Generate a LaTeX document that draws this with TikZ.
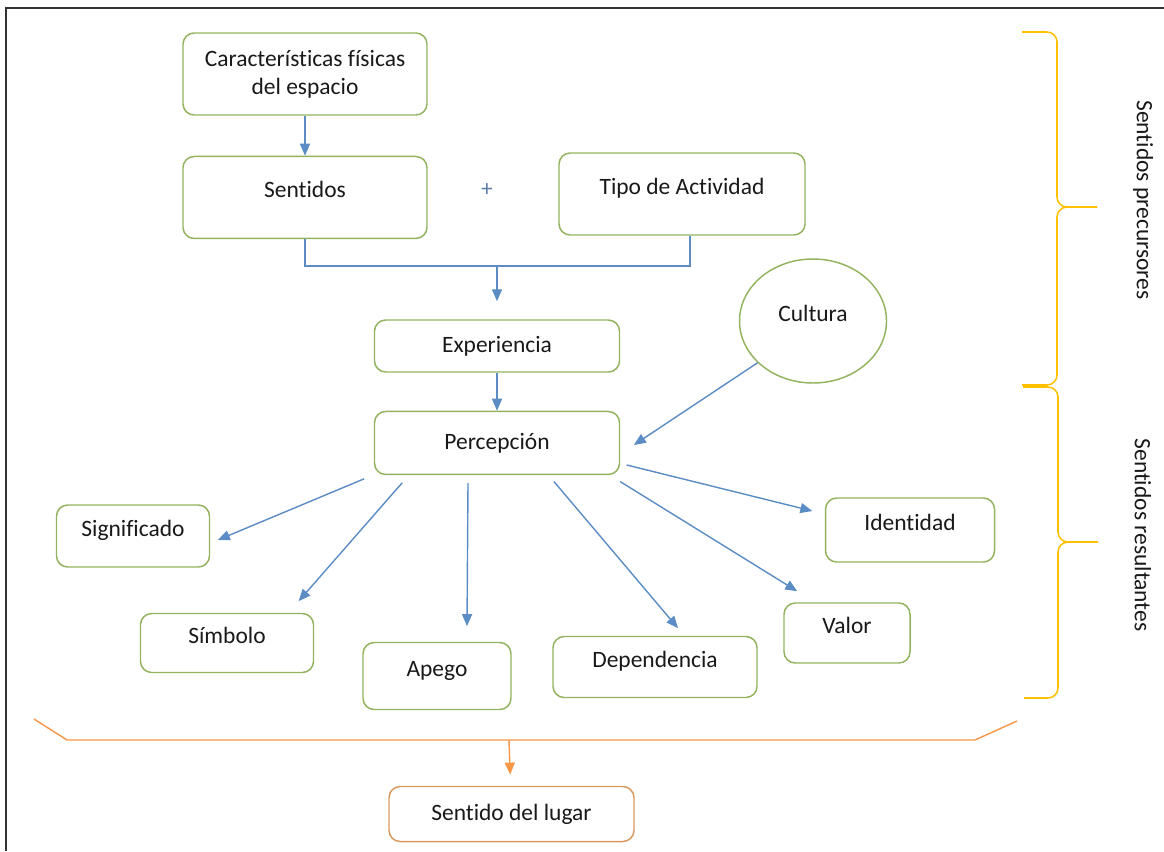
\documentclass[tikz,border=0pt]{standalone}
\usepackage{fontspec}
\setmainfont{Carlito}[RawFeature={-liga;-clig;-calt;-dlig}]
\usepackage{tikz}
\usetikzlibrary{positioning}
\usetikzlibrary{shapes.geometric}
\usetikzlibrary{arrows.meta}
\usetikzlibrary{calc}
\usepackage{xcolor}
\definecolor{boxgreen}{HTML}{93B35F}
\definecolor{arrowblue}{HTML}{5B8CC4}
\definecolor{lineorange}{HTML}{F79646}
\definecolor{lugarorange}{HTML}{D99A5E}
\definecolor{braceyellow}{HTML}{FFC000}
\definecolor{plusblue}{HTML}{5F7FA8}

\begin{document}
\begin{tikzpicture}[
  font=\fontsize{16.7}{19.9}\selectfont,
  box/.style={draw=boxgreen, line width=1.05pt, rounded corners=0.28cm, align=center, inner sep=0pt, text=black!90},
  upbox/.style={box, text height=0.7em, text depth=0.7em},
  circ/.style={draw=boxgreen, line width=1.05pt, ellipse, inner sep=0pt, text=black!90, text height=0.7em, text depth=0.7em},
  arrow/.style={-{Triangle[length=0.3cm, width=0.25cm]}, draw=arrowblue, line width=1pt},
  joinline/.style={draw=arrowblue, line width=1pt},
  oarrow/.style={-{Triangle[length=0.3cm, width=0.25cm]}, draw=lineorange, line width=1pt},
  brace/.style={draw=braceyellow, line width=1.1pt, rounded corners=0.25cm}
]
\useasboundingbox (0,0) rectangle (29.1,-21.275);

% Frame (only left and top edges show)
\draw[line width=1.4pt, black!80] (0.14,-21.275) -- (0.14,-0.19) -- (29.1,-0.19);

% Precursor nodes
\node[box, minimum width=6.1cm, minimum height=2.05cm] (car) at (7.625,-1.85) {Características físicas\\del espacio};
\node[upbox, minimum width=6.1cm, minimum height=2.05cm, below=1.0cm of car] (sen) {Sentidos};
\node[upbox, minimum width=6.15cm, minimum height=2.05cm] (act) at (17.05,-4.85) {Tipo de Actividad};
\node[text=plusblue] (plus) at (12.175,-4.75) {+};

\node[box, minimum width=6.125cm, minimum height=1.3cm] (exp) at (12.425,-8.65) {Experiencia};
\node[box, minimum width=6.125cm, minimum height=1.575cm, below=0.95cm of exp] (per) {Percepción};
\node[circ, minimum width=3.675cm, minimum height=3.1cm] (cul) at (20.325,-8.025) {Cultura};

% Resulting senses
\node[upbox, minimum width=3.825cm, minimum height=1.55cm] (sig) at (3.325,-13.4) {Significado};
\node[upbox, minimum width=4.325cm, minimum height=1.475cm] (sim) at (5.675,-16.075) {Símbolo};
\node[upbox, minimum width=3.7cm, minimum height=1.675cm] (ape) at (10.925,-16.9) {Apego};
\node[upbox, minimum width=5.1cm, minimum height=1.525cm] (dep) at (16.375,-16.675) {Dependencia};
\node[upbox, minimum width=3.15cm, minimum height=1.5cm] (val) at (21.175,-15.825) {Valor};
\node[upbox, minimum width=4.225cm, minimum height=1.6cm] (ide) at (22.75,-13.25) {Identidad};

\node[box, draw=lugarorange, minimum width=6.125cm, minimum height=1.375cm] (lug) at (12.7875,-20.35) {Sentido del lugar};

% Main lineage
\coordinate (join) at (12.425,-6.65);
\draw[arrow] (car) -- (sen);
\draw[joinline] (sen.south) |- (join) -| ([xshift=0.2cm]act.south);
\draw[arrow, shorten >=0.45cm] (join) -- (exp);
\draw[arrow] (exp) -- (per);
\draw[arrow] (cul.217) -- ([xshift=0.34cm,yshift=-0.05cm]per.east);

% Fan out from perception
\draw[arrow] ([xshift=-0.24cm,yshift=-0.09cm]per.south west) -- ([xshift=0.19cm,yshift=-0.1cm]sig.east);
\draw[arrow] ([xshift=0.71cm,yshift=-0.19cm]per.south west) -- ([xshift=-0.39cm,yshift=0.29cm]sim.north east);
\draw[arrow] ([xshift=-0.725cm,yshift=-0.19cm]per.south) -- ([xshift=0.75cm,yshift=0.39cm]ape.north);
\draw[arrow] ([xshift=1.425cm,yshift=-0.16cm]per.south) -- ([xshift=0.575cm,yshift=0.19cm]dep.north);
\draw[arrow] ([yshift=-0.16cm]per.south east) -- ([xshift=0.35cm,yshift=0.275cm]val.north west);
\draw[arrow] ([xshift=0.16cm,yshift=-0.55cm]per.east) -- ([xshift=-0.31cm,yshift=0.475cm]ide.west);

% Bottom bracket to sense of place
\coordinate (bjoin) at (12.725,-18.5);
\draw[draw=lineorange, line width=1pt] (0.85,-17.975) -- (1.675,-18.5) -- (24.375,-18.5) -- (25.425,-18.025);
\draw[oarrow, shorten >=0.28cm] (bjoin) -- (lug);

% Side braces
\draw[brace] (25.55,-0.8) -- (26.425,-0.8) -- (26.425,-5.175) -- (27.425,-5.175);
\draw[brace] (27.425,-5.175) -- (26.425,-5.175) -- (26.425,-9.625) -- (25.55,-9.625);
\draw[brace] (25.575,-9.675) -- (26.45,-9.675) -- (26.45,-13.55) -- (27.45,-13.55);
\draw[brace] (27.45,-13.55) -- (26.45,-13.55) -- (26.45,-17.45) -- (25.6,-17.45);
\node[rotate=-90, text=black!90] (pre) at (28.575,-5.0) {Sentidos precursores};
\node[rotate=-90, text=black!90] (res) at (28.575,-13.375) {Sentidos resultantes};

\end{tikzpicture}
\end{document}
